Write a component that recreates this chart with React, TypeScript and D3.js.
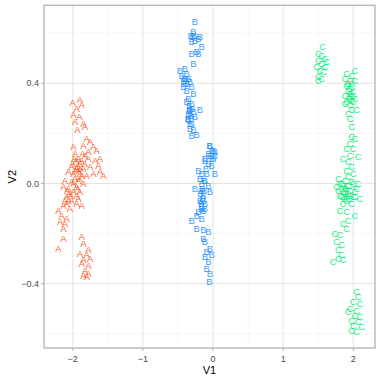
import React from "react";
import * as d3 from "d3";

const groupA: [number, number][] = [
  [-2.0, 0.322], [-1.896, 0.333], [-1.872, 0.313], [-1.943, 0.299], [-1.991, 0.273], [-1.905, 0.266],
  [-1.967, 0.246], [-1.848, 0.239], [-1.934, 0.213], [-1.825, 0.226],
  [-1.801, 0.18], [-1.753, 0.166], [-1.848, 0.153], [-1.706, 0.146], [-1.991, 0.146], [-1.777, 0.126],
  [-1.658, 0.133], [-1.825, 0.113], [-1.967, 0.12], [-1.611, 0.1], [-1.682, 0.093], [-1.896, 0.08],
  [-2.015, 0.066], [-1.943, 0.06], [-1.848, 0.06], [-1.753, 0.066], [-1.635, 0.073], [-1.563, 0.033],
  [-1.611, 0.046], [-2.062, 0.046], [-1.991, 0.04], [-1.896, 0.04], [-1.801, 0.033], [-1.706, 0.04],
  [-2.11, 0.013], [-2.015, 0.007], [-1.92, 0.013], [-1.848, 0.0], [-1.943, -0.013], [-2.062, -0.02],
  [-2.134, -0.013], [-1.991, -0.033], [-1.896, -0.033], [-2.086, -0.053], [-2.015, -0.067], [-1.92, -0.06],
  [-2.11, -0.067], [-2.134, -0.087], [-2.205, -0.107], [-2.039, -0.1], [-2.157, -0.127], [-2.086, -0.14],
  [-1.943, -0.08], [-1.872, -0.087], [-2.181, -0.153], [-2.11, -0.16], [-2.134, -0.18], [-2.134, -0.22],
  [-2.205, -0.26],
  [-1.92, 0.1], [-1.88, 0.09], [-1.95, 0.09], [-1.9, 0.02], [-1.97, 0.02], [-2.05, -0.04], [-2.08, -0.03],
  [-1.86, 0.12], [-1.78, 0.1], [-1.92, 0.05], [-2.0, 0.08], [-2.06, -0.07], [-1.94, -0.05],
  [-1.93, 0.07], [-1.89, 0.06], [-1.96, 0.05], [-1.87, 0.03], [-1.99, 0.0], [-1.93, -0.02], [-2.03, -0.05],
  [-2.09, -0.08], [-1.83, 0.08], [-1.98, 0.1],
  [-1.872, -0.213], [-1.848, -0.24], [-1.777, -0.266], [-1.896, -0.28], [-1.801, -0.286], [-1.848, -0.306],
  [-1.753, -0.3], [-1.872, -0.319], [-1.777, -0.326], [-1.825, -0.346], [-1.848, -0.366], [-1.777, -0.359],
  [-1.801, -0.373],
];

const groupB: [number, number][] = [
  [-0.257, 0.645], [-0.28, 0.605], [-0.29, 0.585], [-0.304, 0.565], [-0.257, 0.569], [-0.209, 0.579],
  [-0.185, 0.585], [-0.162, 0.545], [-0.209, 0.519], [-0.304, 0.519], [-0.233, 0.525], [-0.28, 0.479],
  [-0.47, 0.452], [-0.399, 0.459], [-0.447, 0.432], [-0.375, 0.439], [-0.423, 0.412], [-0.352, 0.419],
  [-0.399, 0.399], [-0.328, 0.406], [-0.423, 0.386], [-0.304, 0.386], [-0.375, 0.372], [-0.28, 0.359],
  [-0.375, 0.326], [-0.304, 0.319], [-0.328, 0.293], [-0.352, 0.279], [-0.28, 0.286], [-0.185, 0.295],
  [-0.257, 0.266], [-0.352, 0.253], [-0.304, 0.239], [-0.328, 0.219], [-0.28, 0.213], [-0.233, 0.193],
  [-0.304, 0.189],
  [-0.34, 0.31], [-0.32, 0.27], [-0.36, 0.26], [-0.3, 0.3], [-0.33, 0.24], [-0.37, 0.4], [-0.41, 0.42],
  [-0.32, 0.59], [-0.27, 0.59], [-0.34, 0.29], [-0.31, 0.26], [-0.35, 0.34], [-0.39, 0.42],
  [-0.043, 0.153], [0.005, 0.133], [-0.067, 0.12], [0.029, 0.113], [-0.114, 0.1], [-0.019, 0.1],
  [-0.052, 0.153], [-0.019, 0.133], [0.029, 0.126], [-0.043, 0.113], [0.005, 0.1], [-0.114, 0.093],
  [-0.067, 0.08], [-0.019, 0.073], [0.029, 0.04], [-0.209, 0.053], [-0.162, 0.04], [-0.09, 0.04],
  [-0.185, 0.02], [-0.114, 0.013], [-0.067, -0.007], [-0.257, -0.02], [-0.162, -0.027], [-0.043, -0.033],
  [-0.138, -0.047], [-0.185, -0.067], [-0.114, -0.08], [-0.162, -0.093], [-0.209, -0.113], [-0.233, -0.127],
  [-0.304, -0.147], [-0.162, -0.14], [-0.233, -0.18], [-0.138, -0.186], [-0.067, -0.193], [-0.138, -0.22],
  [-0.114, -0.233], [-0.043, -0.26], [-0.09, -0.273], [-0.019, -0.286], [-0.114, -0.293], [-0.067, -0.313],
  [-0.09, -0.339], [-0.043, -0.359], [-0.052, -0.393],
  [-0.15, -0.06], [-0.13, -0.03], [-0.17, -0.08], [-0.12, -0.1], [-0.16, 0.0], [-0.1, 0.06], [-0.14, -0.11],
  [-0.18, -0.04], [-0.15, -0.02], [-0.14, -0.07], [-0.16, -0.1], [-0.13, 0.01],
];

const groupC: [number, number][] = [
  [1.563, 0.548], [1.502, 0.519], [1.549, 0.512], [1.597, 0.499], [1.502, 0.492], [1.62, 0.486],
  [1.549, 0.479], [1.478, 0.466], [1.597, 0.466], [1.525, 0.452], [1.573, 0.446], [1.502, 0.426],
  [1.502, 0.412], [1.549, 0.419],
  [2.024, 0.452], [1.905, 0.439], [1.977, 0.432], [1.882, 0.419], [1.953, 0.412], [2.024, 0.412],
  [1.905, 0.392], [1.977, 0.386], [1.929, 0.372], [2.0, 0.366], [1.882, 0.352], [1.953, 0.346],
  [2.024, 0.339], [1.905, 0.326], [2.0, 0.326], [1.953, 0.313], [1.882, 0.319], [1.977, 0.293],
  [2.048, 0.293], [1.929, 0.279], [1.953, 0.259], [1.977, 0.226],
  [1.96, 0.36], [1.94, 0.34], [1.99, 0.35], [1.92, 0.4], [1.97, 0.33], [1.95, 0.38], [1.98, 0.4],
  [1.977, 0.186], [2.024, 0.18], [1.953, 0.16], [1.905, 0.14], [2.0, 0.14], [1.858, 0.1], [1.953, 0.113],
  [2.072, 0.106], [1.929, 0.086], [1.977, 0.066], [1.905, 0.053], [2.0, 0.04], [1.929, 0.026],
  [1.787, 0.02], [1.882, 0.013], [1.977, 0.007], [2.072, 0.0], [1.763, -0.013], [1.834, -0.02],
  [1.929, -0.027], [2.024, -0.033], [1.81, -0.047], [1.905, -0.053], [2.0, -0.053], [2.096, -0.06],
  [1.81, 0.0], [1.905, -0.007], [2.0, 0.0], [1.787, -0.027], [1.858, -0.033], [1.953, -0.027],
  [2.048, -0.02], [1.834, -0.053], [1.929, -0.06], [2.024, -0.053], [1.858, -0.08], [1.977, -0.08],
  [1.81, -0.107], [1.905, -0.113], [2.024, -0.127], [1.929, -0.147], [1.858, -0.16], [1.905, -0.18],
  [1.739, -0.2], [1.81, -0.206], [1.763, -0.233], [1.834, -0.246], [1.787, -0.266], [1.834, -0.286],
  [1.715, -0.313], [1.858, -0.306], [1.787, -0.3],
  [1.88, -0.04], [1.93, -0.01], [1.86, -0.01], [1.95, -0.05], [1.9, -0.07], [1.84, 0.0],
  [1.89, -0.02], [1.92, -0.04], [1.87, -0.06],
  [2.048, -0.433], [2.072, -0.453], [2.0, -0.473], [2.096, -0.479], [1.953, -0.499], [2.048, -0.506],
  [1.929, -0.512], [2.024, -0.526], [2.096, -0.532], [1.977, -0.546], [2.072, -0.552], [2.0, -0.566],
  [2.119, -0.572], [1.977, -0.586], [2.048, -0.592],
];

const groups = [
  { label: "A", color: "#FF4500", points: groupA },
  { label: "B", color: "#1E8FFF", points: groupB },
  { label: "C", color: "#00EE76", points: groupC },
];

const xTicks = [-2, -1, 0, 1, 2];
const xMinor = [-1.5, -0.5, 0.5, 1.5];
const yTicks = [-0.4, 0, 0.4];
const yMinor = [-0.6, -0.2, 0.2, 0.6];

const W = 382;
const H = 382;
const L = 44, R = 375, T = 5.3, B = 348;

const fmt = (v: number, d: number) => {
  const s = v.toFixed(d);
  return v < 0 ? "\u2212" + s.slice(1) : s;
};

export default function App() {
  const x = d3.scaleLinear().domain([-2.41, 2.31]).range([L, R]);
  const y = d3.scaleLinear().domain([-0.657, 0.711]).range([B, T]);
  const font = "'Liberation Sans', Arial, sans-serif";
  return (
    <svg width={W} height={H} style={{ position: "absolute", left: 0, top: 0 }} fontFamily={font}>
      <rect x={0} y={0} width={W} height={H} fill="#fff" />
      {xMinor.map((v) => (
        <line key={"xm" + v} x1={x(v)} x2={x(v)} y1={T} y2={B} stroke="#EFEFEF" strokeWidth={0.6} />
      ))}
      {yMinor.map((v) => (
        <line key={"ym" + v} x1={L} x2={R} y1={y(v)} y2={y(v)} stroke="#EFEFEF" strokeWidth={0.6} />
      ))}
      {xTicks.map((v) => (
        <line key={"xg" + v} x1={x(v)} x2={x(v)} y1={T} y2={B} stroke="#E3E3E3" strokeWidth={1} />
      ))}
      {yTicks.map((v) => (
        <line key={"yg" + v} x1={L} x2={R} y1={y(v)} y2={y(v)} stroke="#E3E3E3" strokeWidth={1} />
      ))}
      {groups.map((g) => (
        <g key={g.label} fill={g.color} fillOpacity={0.9} fontSize={9.5} textAnchor="middle">
          {g.points.map((p, i) => (
            <text key={i} x={x(p[0])} y={y(p[1])} dy="0.36em">
              {g.label}
            </text>
          ))}
        </g>
      ))}
      <rect x={L} y={T} width={R - L} height={B - T} fill="none" stroke="#B3B3B3" strokeWidth={1.3} />
      {xTicks.map((v) => (
        <g key={"xt" + v}>
          <line x1={x(v)} x2={x(v)} y1={B} y2={B + 3} stroke="#B3B3B3" strokeWidth={1} />
          <text x={x(v)} y={B + 13.5} fontSize={9} fill="#4D4D4D" textAnchor="middle">
            {fmt(v, 0)}
          </text>
        </g>
      ))}
      {yTicks.map((v) => (
        <g key={"yt" + v}>
          <line x1={L - 3} x2={L} y1={y(v)} y2={y(v)} stroke="#B3B3B3" strokeWidth={1} />
          <text x={L - 5} y={y(v)} dy="0.35em" fontSize={9} fill="#4D4D4D" textAnchor="end">
            {fmt(v, 1)}
          </text>
        </g>
      ))}
      <text x={(L + R) / 2} y={374} fontSize={11} fill="#000" textAnchor="middle">V1</text>
      <text
        transform={`translate(16,${(T + B) / 2}) rotate(-90)`}
        fontSize={11}
        fill="#000"
        textAnchor="middle"
      >
        V2
      </text>
    </svg>
  );
}
